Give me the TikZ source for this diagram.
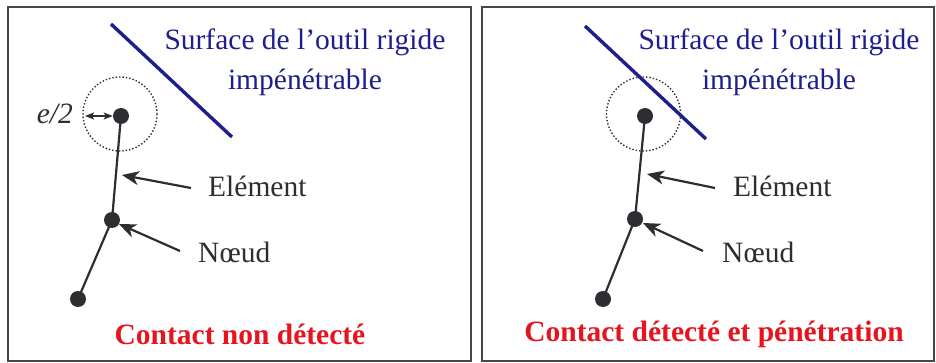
\documentclass[tikz,border=0pt]{standalone}
\usepackage{fontspec}
\setmainfont{Liberation Serif}
\usetikzlibrary{arrows.meta}
\definecolor{tool}{RGB}{30,30,140}
\definecolor{lbl}{RGB}{230,20,30}
\definecolor{ink}{RGB}{45,45,50}
\definecolor{frame}{RGB}{70,70,70}
\begin{document}
\begin{tikzpicture}[x=1pt,y=-1pt,
  panel/.style={draw=frame,line width=2pt},
  toolline/.style={draw=tool,line width=3.4pt},
  dot/.style={circle,fill=ink,inner sep=0pt,minimum size=16pt},
  bar/.style={draw=ink,line width=2.2pt},
  ptr/.style={draw=ink,line width=2.2pt,-{Stealth[length=17pt,width=14pt,inset=5pt]}},
  zone/.style={draw=ink,line width=1.4pt,dotted},
  txt/.style={text=ink,font=\fontsize{29.5}{34}\selectfont,inner sep=0pt},
  tooltxt/.style={text=tool,font=\fontsize{29.5}{40}\selectfont,inner sep=0pt,align=center},
  caption/.style={text=lbl,font=\fontsize{29.5}{34}\selectfont\bfseries,inner sep=0pt}]
\useasboundingbox (0,0) rectangle (936,363);
% panels
\draw[panel] (8,7) rectangle (471,361);
\draw[panel] (482,7) rectangle (934,361);

% ---------- left panel ----------
\draw[toolline] (111,24) -- (232,137);
\node[tooltxt] (tl) at (305,62) {Surface de l’outil rigide\\impénétrable};
\node[dot] (a1) at (121,116) {};
\node[dot] (b1) at (112,220) {};
\node[dot] (c1) at (78,299) {};
\draw[bar] (a1.center) -- (b1.center) -- (c1.center);
\draw[zone] (120,114) circle (37);
\node[txt,anchor=east] (e1) at (73,114) {\itshape e/2};
\coordinate (r1) at (85,116);
\draw[draw=ink,line width=1.6pt,{Stealth[length=9pt,width=7pt,inset=2pt]}-{Stealth[length=9pt,width=7pt,inset=2pt]}] (r1) -- (a1.west);
\node[txt,anchor=west] (el1) at (208,186) {Elément};
\node[txt,anchor=west] (n1) at (198,252) {Nœud};
\coordinate (el1t) at (122,175);
\coordinate (n1t) at (119,224);
\draw[ptr] (191,188) -- (el1t);
\draw[ptr] (180,251) -- (n1t);
\node[caption] (cap1) at (240,334) {Contact non détecté};

% ---------- right panel ----------
\draw[toolline] (585,26) -- (706,139);
\node[tooltxt] (tr) at (779,62) {Surface de l’outil rigide\\impénétrable};
\node[dot] (a2) at (645,116) {};
\node[dot] (b2) at (635,219) {};
\node[dot] (c2) at (603,299) {};
\draw[bar] (a2.center) -- (b2.center) -- (c2.center);
\draw[zone] (643.5,114) circle (37);
\node[txt,anchor=west] (el2) at (733,186) {Elément};
\node[txt,anchor=west] (n2) at (722,252) {Nœud};
\coordinate (el2t) at (647,174);
\coordinate (n2t) at (643,223);
\draw[ptr] (715,188) -- (el2t);
\draw[ptr] (703,251) -- (n2t);
\node[caption] (cap2) at (714,334) {Contact détecté et pénétration};
\end{tikzpicture}
\end{document}
